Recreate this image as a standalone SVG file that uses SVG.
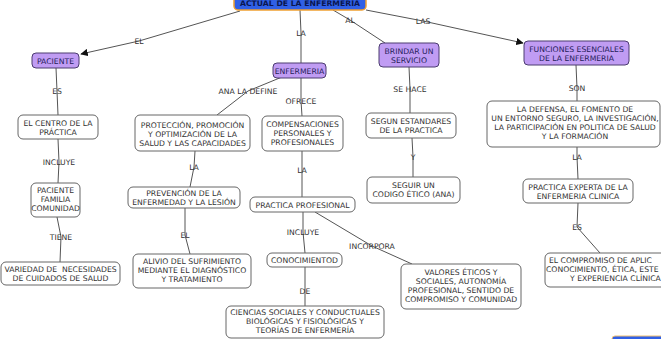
<svg xmlns="http://www.w3.org/2000/svg" width="661" height="339" viewBox="0 0 661 339">
<defs>
<marker id="arr" viewBox="0 0 10 10" refX="9" refY="5" markerWidth="7.5" markerHeight="7.5" markerUnits="userSpaceOnUse" orient="auto"><path d="M0,0 L10,5 L0,10 z" fill="#111"/></marker>
</defs>
<style>
text{font-family:"DejaVu Sans","Liberation Sans",sans-serif;font-size:7.7px;text-anchor:middle}
text.st{text-anchor:start}
.w rect{fill:#fff;stroke:#666;stroke-width:1}
.w text{fill:#333}
.p rect{fill:#c09cf3;stroke:#4c3c70;stroke-width:1}
.p text{fill:#25205a}
.lk{fill:#333}
#links path{fill:none;stroke:#555;stroke-width:1}
</style>
<rect width="661" height="339" fill="#fff"/>
<g id="links">
<path d="M240,11 L139,41 L81,54" marker-end="url(#arr)"/>
<path d="M300,10 L301,33 L301,63"/>
<path d="M333,10 L350,20 L385,43"/>
<path d="M366,10 L423,21 L523,43" marker-end="url(#arr)"/>
<path d="M56,68 L57,91 L58,115"/>
<path d="M58,139 L59,162 L58,183"/>
<path d="M57,217 L61,237 L60,262"/>
<path d="M282,77 L248,91 L217,115"/>
<path d="M301,78 L301,101 L302,116"/>
<path d="M195,151 L194,167 L190,187"/>
<path d="M185,208 L185,235 L190,254"/>
<path d="M302,151 L302,170 L302,197"/>
<path d="M303,212 L303,232 L305,253"/>
<path d="M315,212 L372,246 L412,264"/>
<path d="M305,267 L305,291 L305,306"/>
<path d="M409,67 L410,89 L410,113"/>
<path d="M412,138 L413,157 L413,177"/>
<path d="M576,65 L577,88 L577,101"/>
<path d="M577,147 L577,157 L578,179"/>
<path d="M578,203 L577,227 L600,253"/>
</g>
<g id="labels" class="lk">
<text x="139" y="44">EL</text>
<text x="301" y="36">LA</text>
<text x="350" y="23">AL</text>
<text x="423" y="24">LAS</text>
<text x="57" y="94">ES</text>
<text x="59" y="165">INCLUYE</text>
<text x="61" y="240">TIENE</text>
<text x="248" y="94">ANA LA DEFINE</text>
<text x="301" y="104">OFRECE</text>
<text x="194" y="170">LA</text>
<text x="185" y="238">EL</text>
<text x="302" y="173">LA</text>
<text x="303" y="235">INCLUYE</text>
<text x="372" y="249">INCORPORA</text>
<text x="305" y="294">DE</text>
<text x="410" y="92">SE HACE</text>
<text x="413" y="160">Y</text>
<text x="577" y="91">SON</text>
<text x="577" y="160">LA</text>
<text x="577" y="230">ES</text>
</g>
<g id="n-top">
<rect x="234" y="-10" width="132" height="20" rx="4" fill="#3060e6" stroke="#f0a030" stroke-width="1.5"/>
<text x="300" y="6" fill="#0a1650" font-weight="bold">ACTUAL DE LA ENFERMERIA</text>
</g>
<g id="n-paciente" class="p"><rect x="32" y="53" width="47" height="15" rx="4"/><text x="55.5" y="63.5">PACIENTE</text></g>
<g id="n-enfermeria" class="p"><rect x="273" y="63" width="53" height="15" rx="4"/><text x="299.5" y="73.5">ENFERMERIA</text></g>
<g id="n-brindar" class="p"><rect x="379" y="43" width="60" height="24" rx="4"/><text x="409" y="53.5">BRINDAR UN</text><text x="409" y="62.5">SERVICIO</text></g>
<g id="n-funciones" class="p"><rect x="524" y="41" width="105" height="24" rx="4"/><text x="576.5" y="51.5">FUNCIONES ESENCIALES</text><text x="576.5" y="60.5">DE LA ENFERMERIA</text></g>
<g id="n-centro" class="w"><rect x="18" y="115" width="80" height="24" rx="5"/><text x="58" y="125.5">EL CENTRO DE LA</text><text x="58" y="134.5">PRÁCTICA</text></g>
<g id="n-pfc" class="w"><rect x="31" y="183" width="49" height="34" rx="5"/><text x="55.5" y="193">PACIENTE</text><text x="55.5" y="202">FAMILIA</text><text x="55.5" y="211">COMUNIDAD</text></g>
<g id="n-variedad" class="w"><rect x="1" y="262" width="119" height="23" rx="5"/><text x="60.5" y="271.5" xml:space="preserve">VARIEDAD DE  NECESIDADES</text><text x="60.5" y="280.5">DE CUIDADOS DE SALUD</text></g>
<g id="n-proteccion" class="w"><rect x="135" y="115" width="115" height="36" rx="5"/><text x="192.5" y="127.5">PROTECCIÓN, PROMOCIÓN</text><text x="192.5" y="136.5">Y OPTIMIZACIÓN DE LA</text><text x="192.5" y="145.5">SALUD Y LAS CAPACIDADES</text></g>
<g id="n-prevencion" class="w"><rect x="128" y="187" width="112" height="21" rx="5"/><text x="184" y="196">PREVENCIÓN DE LA</text><text x="184" y="205">ENFERMEDAD Y LA LESIÓN</text></g>
<g id="n-alivio" class="w"><rect x="133" y="254" width="118" height="34" rx="5"/><text x="192" y="264">ALIVIO DEL SUFRIMIENTO</text><text x="192" y="273">MEDIANTE EL DIAGNÓSTICO</text><text x="192" y="282">Y TRATAMIENTO</text></g>
<g id="n-compensaciones" class="w"><rect x="262" y="116" width="81" height="35" rx="5"/><text x="302.5" y="127">COMPENSACIONES</text><text x="302.5" y="136">PERSONALES Y</text><text x="302.5" y="145">PROFESIONALES</text></g>
<g id="n-practica" class="w"><rect x="250" y="197" width="105" height="15" rx="5"/><text x="302.5" y="207.5">PRACTICA PROFESIONAL</text></g>
<g id="n-conocimiento" class="w"><rect x="267" y="253" width="75" height="14" rx="5"/><text x="304.5" y="262.8">CONOCIMIENTOD</text></g>
<g id="n-ciencias" class="w"><rect x="226" y="306" width="158" height="32" rx="5"/><text x="305" y="315">CIENCIAS SOCIALES Y CONDUCTUALES</text><text x="305" y="324">BIOLÓGICAS Y FISIOLÓGICAS Y</text><text x="305" y="333">TEORÍAS DE ENFERMERÍA</text></g>
<g id="n-valores" class="w"><rect x="401" y="264" width="120" height="45" rx="5"/><text x="461" y="275">VALORES ÉTICOS Y</text><text x="461" y="284">SOCIALES, AUTONOMÍA</text><text x="461" y="293">PROFESIONAL, SENTIDO DE</text><text x="461" y="302">COMPROMISO Y COMUNIDAD</text></g>
<g id="n-segun" class="w"><rect x="366" y="113" width="90" height="25" rx="5"/><text x="411" y="123.5">SEGUN ESTANDARES</text><text x="411" y="132.5">DE LA PRACTICA</text></g>
<g id="n-seguir" class="w"><rect x="367" y="177" width="93" height="26" rx="5"/><text x="413.5" y="188">SEGUIR UN</text><text x="413.5" y="197">CODIGO ÉTICO (ANA)</text></g>
<g id="n-defensa" class="w"><rect x="487" y="101" width="173" height="46" rx="5"/><text x="575" y="112">LA DEFENSA, EL FOMENTO DE</text><text x="575" y="121">UN ENTORNO SEGURO, LA INVESTIGACIÓN,</text><text x="575" y="130">LA PARTICIPACIÓN EN POLITICA DE SALUD</text><text x="575" y="139">Y LA FORMACIÓN</text></g>
<g id="n-experta" class="w"><rect x="523" y="179" width="110" height="24" rx="5"/><text x="578" y="189.5">PRACTICA EXPERTA DE LA</text><text x="578" y="198.5">ENFERMERIA CLINICA</text></g>
<g id="n-compromiso" class="w"><rect x="545" y="253" width="130" height="34" rx="5"/><text class="st" x="549" y="263">EL COMPROMISO DE APLIC</text><text class="st" x="546" y="272">CONOCIMIENTO, ÉTICA, ESTE</text><text class="st" x="570" y="281">Y EXPERIENCIA CLÍNICA</text></g>
<g id="n-corner"><rect x="612" y="336" width="60" height="12" rx="3" fill="#3060e6" stroke="#f0c070" stroke-width="1"/></g>
</svg>
